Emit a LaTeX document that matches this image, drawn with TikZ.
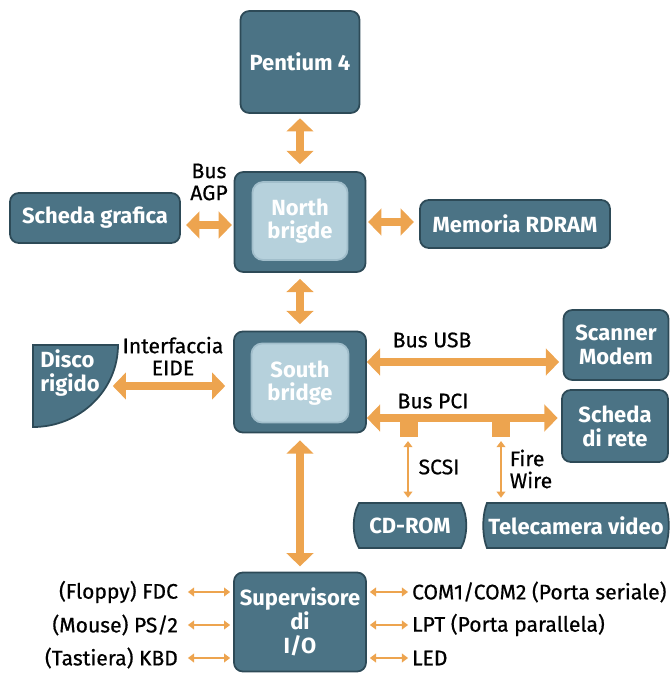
\documentclass[tikz,border=0pt]{standalone}
\usepackage{fontspec}
\setmainfont{Fira Sans}
\newfontfamily\labelfont{Fira Sans}[FakeBold=0.6]
\usetikzlibrary{arrows.meta,calc}
\definecolor{unitblue}{HTML}{4B7385}
\definecolor{unitedge}{HTML}{2D4A57}
\definecolor{corelight}{HTML}{B6D1DC}
\definecolor{busorange}{HTML}{EDA44F}
\tikzset{
  unitbody/.style={fill=unitblue, draw=unitedge, line width=1pt},
  unit/.style={unitbody, rounded corners=5pt, text=white, align=center, inner sep=0pt, font=\bfseries\fontsize{12.5}{13.5}\selectfont},
  core/.style={unit, draw=corelight!80!unitblue, fill=corelight, rounded corners=6pt},
  unittext/.style={text=white, align=center, inner sep=0pt, font=\bfseries\fontsize{12.5}{13.5}\selectfont},
  lbl/.style={align=center, inner sep=1pt, font=\labelfont\fontsize{12}{12.5}\selectfont},
  bus/.style={busorange, line width=4.5pt, {Triangle[width=15pt,length=7.5pt]}-{Triangle[width=15pt,length=7.5pt]}},
  wire/.style={busorange, line width=1.5pt, {Triangle[width=5pt,length=3.5pt]}-{Triangle[width=5pt,length=3.5pt]}}
}
\begin{document}
\begin{tikzpicture}[x=0.02cm, y=-0.02cm]
  \useasboundingbox (0,0) rectangle (670,673);
  \node[unit, minimum width=2.38cm, minimum height=2.04cm] (p4) at (300,62) {Pentium 4};
  \node[unit, minimum width=2.62cm, minimum height=2cm] (nb) at (300,222) {};
  \node[core, minimum width=1.9cm, minimum height=1.56cm] (nbcore) at (300,221) {North\\brigde};
  \node[unit, minimum width=3.4cm, minimum height=1cm] (sg) at (95,218) {Scheda grafica};
  \node[unit, minimum width=3.8cm, minimum height=0.96cm] (mem) at (515,224) {Memoria RDRAM};
  \node[unit, minimum width=2.64cm, minimum height=2.02cm] (sb) at (300,382) {};
  \node[core, minimum width=1.94cm, minimum height=1.58cm] (sbcore) at (300,383) {South\\bridge};
  \node[unit, minimum width=2.1cm, minimum height=1.4cm] (scan) at (616,345) {Scanner\\Modem};
  \node[unit, minimum width=2.12cm, minimum height=1.44cm] (net) at (615,426) {Scheda\\di rete};
  \node[unit, minimum width=2.64cm, minimum height=1.98cm] (io) at (300,622) {Supervisore\\di\\I/O};
  \filldraw[unitbody] (33,345) -- (118,345) .. controls (118,390) and (80,427) .. (33,427) -- cycle;
  \node[unittext, anchor=west, align=left] (hd) at (40,373) {Disco\\rigido};
  \coordinate (hdport) at (111,386);
  \filldraw[unitbody] (359,503) -- (461,503) .. controls (468,515) and (468,536) .. (461,548) -- (359,548) .. controls (352,536) and (352,515) .. (359,503) -- cycle;
  \node[unittext, minimum width=2.2cm, minimum height=0.9cm] (cd) at (410,525.5) {CD-ROM};
  \filldraw[unitbody] (487,503) -- (665,503) .. controls (670,515) and (670,536) .. (665,548) -- (487,548) .. controls (482,536) and (482,515) .. (487,503) -- cycle;
  \node[unittext, minimum width=3.64cm, minimum height=0.9cm] (tv) at (576,525.5) {Telecamera video};
  \node[lbl] (agp) at (209,182) {Bus\\AGP};
  \node[lbl] (eide) at (173,356) {Interfaccia\\EIDE};
  \node[lbl] (usb) at (432,340) {Bus USB};
  \node[lbl] (pci) at (433,401) {Bus PCI};
  \node[lbl] (scsi) at (439,467) {SCSI};
  \node[lbl, align=left] (fw) at (531,469) {Fire\\Wire};
  \draw[bus, shorten <=2.5pt, shorten >=4pt] (p4) -- (nb);
  \draw[bus, shorten <=3pt, shorten >=1pt] ($(sg.east)+(0,7)$) -- ($(nb.west)+(0,3)$);
  \draw[bus, shorten <=1pt, shorten >=3pt] (nb.east) -- ($(mem.west)+(0,-2)$);
  \draw[bus, shorten <=3.4pt, shorten >=3.7pt] (nb) -- (sb);
  \draw[bus, shorten <=1pt, shorten >=4.5pt] (hdport) -- ($(sb.west)+(0,4)$);
  \draw[bus, shorten >=2pt] ($(sb.east)+(0,-20)$) -- ($(scan.west)+(0,17)$);
  \draw[bus, shorten >=2pt] ($(sb.east)+(0,36)$) -- ($(net.west)+(0,-8)$);
  \draw[bus, shorten <=4pt, shorten >=3pt] (sb) -- (io);
  \fill[busorange] (400,418) rectangle (418,437);
  \fill[busorange] (492,418) rectangle (510,437);
  \coordinate (scsitap) at (408,437);
  \coordinate (fwtap) at (501,437);
  \draw[wire, shorten <=2.3pt, shorten >=2.8pt] (scsitap) -- (cd.north -| scsitap);
  \draw[wire, shorten <=2.3pt, shorten >=2.8pt] (fwtap) -- (tv.north -| fwtap);
  \foreach \y/\inp/\outp [count=\i] in {592/{(Floppy) FDC}/{COM1/COM2 (Porta seriale)}, 625/{(Mouse) PS/2}/{LPT (Porta parallela)}, 658/{(Tastiera) KBD}/{LED}}{
    \node[lbl, anchor=east] (in\i) at (180,\y) {\inp};
    \node[lbl, anchor=west] (out\i) at (410,\y) {\outp};
    \draw[wire, shorten <=4.5pt, shorten >=1.7pt] (in\i.east) -- (io.west |- in\i.east);
    \draw[wire, shorten <=1.7pt, shorten >=1.1pt] (io.east |- out\i.west) -- (out\i.west);
  }
\end{tikzpicture}
\end{document}
